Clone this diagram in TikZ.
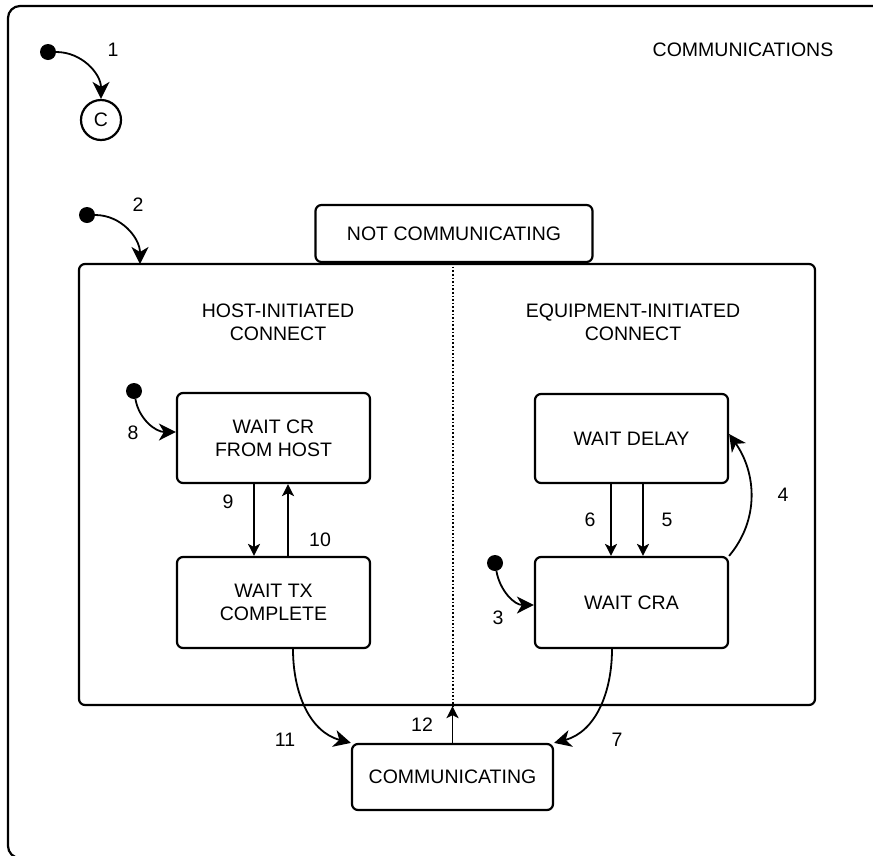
\documentclass[tikz,border=0pt]{standalone}
\usepackage{fontspec}
\setmainfont{Liberation Sans}
\usetikzlibrary{arrows.meta}

\begin{document}
\begin{tikzpicture}[x=1pt, y=-1pt,
	font=\fontsize{19.5}{23}\selectfont,
	stbox/.style={draw, line width=2.2pt, rounded corners=6pt, align=center, inner sep=0pt},
	startdot/.style={circle, fill, inner sep=0pt, minimum size=16pt},
	trans/.style={line width=1.8pt, -{Stealth[length=17pt, width=17pt, inset=5pt]}},
	flow/.style={line width=1.8pt, -{Stealth[length=12pt, width=12pt, inset=3pt]}},
	num/.style={inner sep=0pt}]
		\clip (0,0) rectangle (873,855);
		\draw[line width=2.2pt, rounded corners=12pt] (8,6) rectangle (900,858);
		\node[num] (title) at (743,50) {COMMUNICATIONS};

		% choice point
		\node[startdot] (init1) at (48,52) {};
		\node[draw, circle, line width=2.2pt, minimum size=40pt, inner sep=0pt] (choice) at (101,120) {C};
		\draw[trans] (init1) to[out=0, in=90] (choice.north);
		\node[num] (lab1) at (113,50) {1};

		% not communicating
		\node[stbox, minimum width=277pt, minimum height=57pt] (notcomm) at (454,233.5) {NOT COMMUNICATING};
		\node[stbox, minimum width=736pt, minimum height=441pt] (ncregion) at (447,484.5) {};
		\draw[dotted, line width=1.6pt] (notcomm.south -| 453,0) -- (ncregion.south -| 453,0);
		\node[startdot] (init2) at (87,215) {};
		\coordinate (in2) at (140,264);
		\draw[trans] (init2) to[out=0, in=90] (in2);
		\node[num] (lab2) at (138,205) {2};

		\node[align=center, inner sep=0pt] (hosthead) at (278,322) {HOST-INITIATED\\CONNECT};
		\node[align=center, inner sep=0pt] (equiphead) at (633,322) {EQUIPMENT-INITIATED\\CONNECT};

		% host side
		\node[stbox, minimum width=193pt, minimum height=90pt] (waitcr) at (273.5,438) {WAIT CR\\FROM HOST};
		\node[stbox, minimum width=193pt, minimum height=91pt] (waittx) at (273.5,602.5) {WAIT TX\\COMPLETE};
		\node[startdot] (init8) at (134,391) {};
		\draw[trans] (init8) to[out=-80, in=180] (waitcr.west |- 0,432);
		\node[num] (lab8) at (133,433) {8};
		\draw[flow] (waitcr.south -| 254,0) -- (waittx.north -| 254,0);
		\node[num] (lab9) at (228,502) {9};
		\draw[flow] (waittx.north -| 288,0) -- (waitcr.south -| 288,0);
		\node[num] (lab10) at (320,540) {10};

		% equipment side
		\node[stbox, minimum width=193pt, minimum height=89pt] (waitdelay) at (631.5,438.5) {WAIT DELAY};
		\node[stbox, minimum width=193pt, minimum height=91pt] (waitcra) at (631.5,602.5) {WAIT CRA};
		\draw[flow] (waitdelay.south -| 611,0) -- (waitcra.north -| 611,0);
		\node[num] (lab6) at (590,520) {6};
		\draw[flow] (waitdelay.south -| 643,0) -- (waitcra.north -| 643,0);
		\node[num] (lab5) at (667,520) {5};
		\draw[trans] (waitcra.north east) to[out=50, in=-55] (waitdelay.east |- 0,434);
		\node[num] (lab4) at (783,495) {4};
		\node[startdot] (init3) at (495,563) {};
		\draw[trans] (init3) to[out=-80, in=180] (waitcra.west |- 0,605);
		\node[num] (lab3) at (498,618) {3};

		% communicating
		\node[stbox, minimum width=201pt, minimum height=66pt] (comm) at (452.5,777) {COMMUNICATING};
		\draw[trans] (waittx.south -| 293,0) to[out=-90, in=165] (comm.north west);
		\node[num] (lab11) at (285,740) {11};
		\draw[trans] (waitcra.south -| 612,0) to[out=-90, in=15] (comm.north east);
		\node[num] (lab7) at (617,740) {7};
		\draw[flow] (comm.north) -- (comm.north |- ncregion.south);
		\node[num] (lab12) at (422,725) {12};
\end{tikzpicture}
\end{document}
